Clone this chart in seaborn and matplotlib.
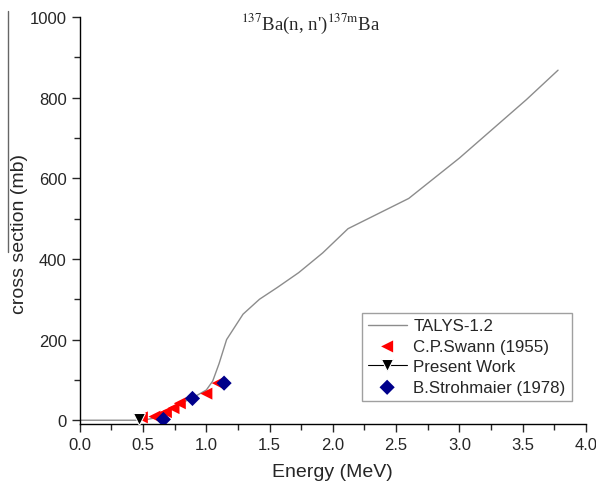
import matplotlib
matplotlib.use('Agg')
import matplotlib.pyplot as plt
import seaborn as sns
import pandas as pd
from matplotlib.ticker import MultipleLocator
from matplotlib.lines import Line2D

# TALYS-1.2 calculation
talys_e = [0.0, 0.5, 0.6, 0.7, 0.8, 0.9, 1.0, 1.05, 1.1, 1.16, 1.29, 1.42, 1.56,
           1.73, 1.92, 2.12, 2.6, 3.0, 3.53, 3.78]
talys_xs = [0, 0, 6, 25, 42, 57, 75, 97, 140, 200, 263, 300, 329,
            366, 415, 475, 550, 650, 795, 868]

# C.P.Swann (1955)
swann_e = [0.49, 0.59, 0.63, 0.68, 0.74, 0.79, 1.0, 1.09]
swann_xs = [7, 9, 12, 20, 30, 42, 66, 92]

# Present Work
present_e = [0.47]
present_xs = [2]

# B.Strohmaier (1978)
stroh_e = [0.66, 0.89, 1.14]
stroh_xs = [2, 54, 92]

sns.set_style('ticks')
plt.rcParams['font.family'] = ['Liberation Sans', 'DejaVu Sans']

fig = plt.figure(figsize=(5.96, 4.85), dpi=100)
ax = fig.add_axes([0.134, 0.124, 0.849, 0.839])

talys = pd.DataFrame({'e': talys_e, 'xs': talys_xs})
sns.lineplot(data=talys, x='e', y='xs', ax=ax, color='#8c8c8c', lw=1,
             label='TALYS-1.2', sort=False)
sns.scatterplot(x=swann_e, y=swann_xs, ax=ax, marker='<', color='red', s=75,
                edgecolor='none', label='C.P.Swann (1955)', zorder=3)
sns.lineplot(x=present_e, y=present_xs, ax=ax, marker='v', color='black',
             markersize=9, lw=0.8, label='Present Work', zorder=4)
sns.scatterplot(x=stroh_e, y=stroh_xs, ax=ax, marker='D', color='#00008b', s=60,
                edgecolor='none', label='B.Strohmaier (1978)', zorder=5)

ax.set_xlim(0, 4.0)
ax.set_ylim(-9, 1000)
ax.xaxis.set_major_locator(MultipleLocator(0.5))
ax.xaxis.set_minor_locator(MultipleLocator(0.25))
ax.yaxis.set_major_locator(MultipleLocator(200))
ax.yaxis.set_minor_locator(MultipleLocator(100))
ax.tick_params(which='major', length=6, width=1, labelsize=12, direction='out')
ax.tick_params(which='minor', length=4, width=1, direction='out')
ax.xaxis.set_major_formatter(matplotlib.ticker.FormatStrFormatter('%.1f'))
sns.despine(ax=ax)
for s in ['left', 'bottom']:
    ax.spines[s].set_linewidth(1)
    ax.spines[s].set_color('black')

ax.set_xlabel('Energy (MeV)', fontsize=14, labelpad=8)
ax.set_ylabel('cross section (mb)', fontsize=14, labelpad=6)
ax.yaxis.set_label_coords(-0.102, 0.47)
ax.text(0.457, 1.014, r"$^{137}$Ba(n, n')$^{137\mathrm{m}}$Ba",
        transform=ax.transAxes, ha='center', va='top', fontsize=13.5,
        family='Liberation Serif', math_fontfamily='stix')

leg = ax.legend(loc='lower left', bbox_to_anchor=(0.557, 0.057), fontsize=12.2,
                frameon=True, fancybox=False, borderpad=0.35, labelspacing=0.32,
                handlelength=2.3, handletextpad=0.4, borderaxespad=0)
leg.get_frame().set_edgecolor('#888888')
leg.get_frame().set_linewidth(1)

# stray vertical rule at the left edge of the original figure
fig.add_artist(Line2D([0.014, 0.014], [0.478, 0.975], color='#666666', lw=1))

fig.savefig('out.png', dpi=100)
